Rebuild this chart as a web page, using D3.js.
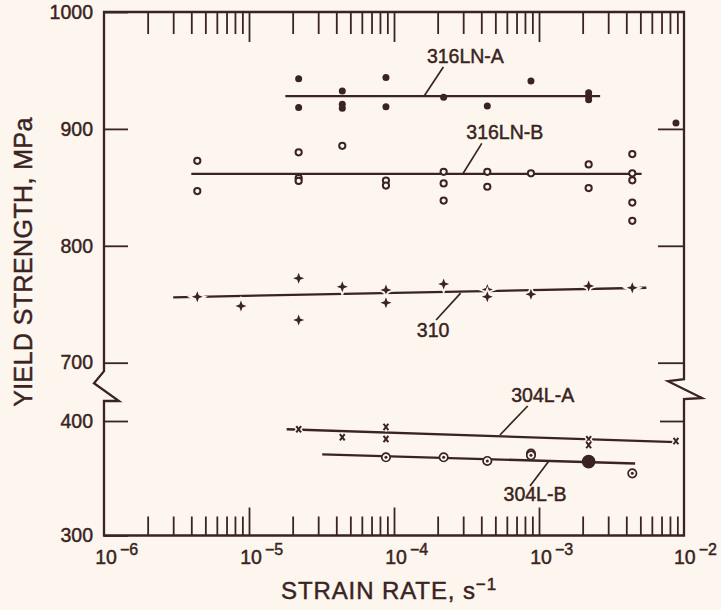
<!DOCTYPE html>
<html>
<head>
<meta charset="utf-8">
<script src="https://cdn.jsdelivr.net/npm/d3@7"></script>
<style>
  html, body { margin: 0; padding: 0; background: #fcf6ef; }
  svg { display: block; }
  text { font-family: "Liberation Sans", Arial, Helvetica, sans-serif; fill: #3a2321;
         stroke: #3a2321; stroke-width: 0.45px; }
</style>
</head>
<body>
<svg id="chart" width="721" height="610"></svg>
<script>
// ---- data: strain rate (1/s), yield strength (MPa) ----
const steel316LNA = [
  [2.2e-5, 943], [2.2e-5, 918.4], [4.4e-5, 932.5], [4.4e-5, 921], [4.4e-5, 917.7],
  [8.8e-5, 944], [8.8e-5, 918.9], [2.2e-4, 927], [4.4e-4, 919.5], [8.8e-4, 941],
  [2.2e-3, 931], [2.2e-3, 928], [2.2e-3, 925], [8.8e-3, 905]
];
const steel316LNB = [
  [4.4e-6, 872.7], [4.4e-6, 846.8], [2.2e-5, 880], [2.2e-5, 858], [2.2e-5, 855.5],
  [4.4e-5, 885.5], [8.8e-5, 855.8], [8.8e-5, 851.5], [2.2e-4, 863.3], [2.2e-4, 853.4],
  [2.2e-4, 838.7], [4.4e-4, 863.3], [4.4e-4, 850.5], [8.8e-4, 862], [2.2e-3, 869.6],
  [2.2e-3, 849.4], [4.4e-3, 878.5], [4.4e-3, 862], [4.4e-3, 856], [4.4e-3, 837],
  [4.4e-3, 821.4]
];
const steel310 = [
  [4.4e-6, 756.4], [8.8e-6, 748.5], [2.2e-5, 772.2], [2.2e-5, 736.5], [4.4e-5, 765],
  [8.8e-5, 762.2], [8.8e-5, 751.3], [2.2e-4, 767.3], [4.4e-4, 762.7], [4.4e-4, 756.4],
  [8.8e-4, 758.5], [2.2e-3, 765.6], [4.4e-3, 764.1]
];
const steel304LA = [
  [2.2e-5, 392.8], [4.4e-5, 385.8], [8.8e-5, 394.8], [8.8e-5, 384.3],
  [2.2e-3, 384], [2.2e-3, 379], [8.8e-3, 382.5]
];
// third field: number of coincident specimens
const steel304LB = [
  [8.8e-5, 368.3, 1], [2.2e-4, 368.3, 1], [4.4e-4, 365.1, 1], [8.8e-4, 371.5, 1],
  [8.8e-4, 370, 1], [2.2e-3, 364.5, 3], [4.4e-3, 354.3, 1]
];

// least-squares trend lines: [strain rate, MPa] end points
const fit316LNA = [[1.78e-5, 928], [2.64e-3, 928]];
const fit316LNB = [[4.0e-6, 861.6], [5.1e-3, 861.6]];
const fit310 = [[3.0e-6, 755.9], [5.5e-3, 764.1]];
const fit304LA = [[1.82e-5, 392.8], [8.8e-3, 381.6]];
const fit304LB = [[3.2e-5, 370.9], [4.6e-3, 362.9]];

// axis ticks
const decadeLabels = [1e-6, 1e-5, 1e-4, 1e-3, 1e-2];
const majorTicks = [1e-5, 1e-4, 1e-3];
const minorTicks = [-6, -5, -4, -3].flatMap(d => d3.range(2, 10).map(k => k * Math.pow(10, d)));
const upperTicks = [1000, 900, 800, 700];
const lowerTicks = [400, 300];

// curve labels: leader start and tip, in data units
const callouts = [
  { text: "316LN-A", from: [2.19e-4, 953], tip: [1.61e-4, 928], dx: 22, dy: -4 },
  { text: "316LN-B", from: [4.03e-4, 887.6], tip: [3.0e-4, 862], dx: 23, dy: -4 },
  { text: "310", from: [1.95e-4, 736.5], tip: [2.88e-4, 759.5], dx: -3, dy: 17 },
  { text: "304L-A", from: [8.36e-4, 413.1], tip: [5.38e-4, 387.8], dx: 15, dy: -4 },
  { text: "304L-B", from: [8.67e-4, 343.2], tip: [1.16e-3, 364.5], dx: 5, dy: 15 }
];

// ---- drawing ----
const ink = "#3a2321";
const bg = "#fcf6ef";
const svg = d3.select("#chart");
svg.append("rect").attr("width", 721).attr("height", 610).attr("fill", bg);

const pLeft = 104, pRight = 684, pTop = 12, pBottom = 535.5;
const x = d3.scaleLog().domain([1e-6, 1e-2]).range([pLeft, pRight]);
const yHi = d3.scaleLinear().domain([700, 1000]).range([362.7, pTop]);
const yLo = d3.scaleLinear().domain([300, 400]).range([pBottom, 421]);
const y = v => (v >= 550 ? yHi(v) : yLo(v));

// frame with broken ordinate between 700 and 400 MPa
const yBreakTop = yHi(700) + 8.5, yBreakBot = yLo(400) - 20;
const frame = d3.path();
frame.moveTo(pLeft, pTop);
frame.lineTo(pRight, pTop);
frame.lineTo(pRight, yBreakTop + 8);
frame.lineTo(pRight - 16, yBreakTop + 10);
frame.lineTo(pRight + 18, yBreakBot - 3);
frame.lineTo(pRight, yBreakBot - 2);
frame.lineTo(pRight, pBottom);
frame.lineTo(pLeft, pBottom);
frame.lineTo(pLeft, yBreakBot);
frame.lineTo(pLeft + 15, yBreakBot);
frame.lineTo(pLeft - 10, yBreakTop + 12);
frame.lineTo(pLeft, yBreakTop);
frame.closePath();
svg.append("path").attr("d", frame.toString())
  .attr("fill", "none").attr("stroke", ink).attr("stroke-width", 2.3)
  .attr("stroke-linejoin", "miter");

function styleAxis(g) {
  g.select(".domain").remove();
  g.selectAll(".tick line").attr("stroke", ink).attr("stroke-width", 1.8);
  g.selectAll(".tick text").attr("fill", ink)
    .style("font-family", '"Liberation Sans", Arial, Helvetica, sans-serif')
    .style("font-size", "19.5px");
}

// top and bottom logarithmic tick rows
svg.append("g").attr("transform", `translate(0,${pTop})`)
  .call(d3.axisBottom(x).tickValues(minorTicks).tickSize(22).tickFormat("")).call(styleAxis);
svg.append("g").attr("transform", `translate(0,${pTop})`)
  .call(d3.axisBottom(x).tickValues(majorTicks).tickSize(30).tickFormat("")).call(styleAxis);
svg.append("g").attr("transform", `translate(0,${pBottom})`)
  .call(d3.axisTop(x).tickValues(minorTicks).tickSize(19).tickFormat("")).call(styleAxis);
svg.append("g").attr("transform", `translate(0,${pBottom})`)
  .call(d3.axisTop(x).tickValues(majorTicks).tickSize(28).tickFormat("")).call(styleAxis);

// left and right ordinate ticks
svg.append("g").attr("transform", `translate(${pLeft},0)`)
  .call(d3.axisLeft(yHi).tickValues(upperTicks).tickSize(-24).tickPadding(11).tickFormat(d3.format("d")))
  .call(styleAxis);
svg.append("g").attr("transform", `translate(${pLeft},0)`)
  .call(d3.axisLeft(yLo).tickValues(lowerTicks).tickSize(-24).tickPadding(11).tickFormat(d3.format("d")))
  .call(styleAxis);
svg.append("g").attr("transform", `translate(${pRight},0)`)
  .call(d3.axisRight(yHi).tickValues(upperTicks.slice(1)).tickSize(-26).tickFormat("")).call(styleAxis);
svg.append("g").attr("transform", `translate(${pRight},0)`)
  .call(d3.axisRight(yLo).tickValues([400]).tickSize(-24).tickFormat("")).call(styleAxis);

// decade labels 10^n
const expLabels = svg.append("g");
decadeLabels.forEach(v => {
  const g = expLabels.append("g");
  const base = g.append("text").attr("text-anchor", "middle")
    .attr("y", pBottom + 28).style("font-size", "19.5px").text("10");
  const exp = g.append("text").attr("text-anchor", "start")
    .attr("y", pBottom + 19).style("font-size", "16px")
    .text("\u2212" + Math.round(-Math.log10(v)));
  let cx = x(v) + 2;
  const ew = exp.node().getComputedTextLength();
  const over = cx + 14 + ew - 717;
  if (over > 0) cx -= over;
  base.attr("x", cx);
  exp.attr("x", cx + 14);
});

// axis titles
const xt = svg.append("text").attr("x", 389).attr("y", 599)
  .attr("text-anchor", "middle").style("font-size", "24px").style("letter-spacing", "0.9px");
xt.append("tspan").text("STRAIN RATE, s");
xt.append("tspan").attr("dy", -9).style("font-size", "17px").text("\u22121");

svg.append("text").attr("transform", "translate(32,262) rotate(-90)")
  .attr("text-anchor", "middle").style("font-size", "25px").style("letter-spacing", "0.4px")
  .text("YIELD STRENGTH, MPa");

// trend lines
const line = d3.line().x(d => x(d[0])).y(d => y(d[1]));
[fit316LNA, fit316LNB, fit310, fit304LA, fit304LB].forEach(f => {
  svg.append("path").attr("d", line(f)).attr("fill", "none")
    .attr("stroke", ink).attr("stroke-width", 2.3);
});

// markers
const pts = svg.append("g");
pts.selectAll(".a").data(steel316LNA).join("circle")
  .attr("cx", d => x(d[0])).attr("cy", d => y(d[1])).attr("r", 3.5).attr("fill", ink);

pts.selectAll(".b").data(steel316LNB).join("circle")
  .attr("cx", d => x(d[0])).attr("cy", d => y(d[1])).attr("r", 3.1)
  .attr("fill", bg).attr("stroke", ink).attr("stroke-width", 2);

const star = "M0,-5.5L1.5,-1.5L5.5,0L1.5,1.5L0,5.5L-1.5,1.5L-5.5,0L-1.5,-1.5Z";
pts.selectAll(".c").data(steel310).join("path")
  .attr("transform", d => `translate(${x(d[0])},${y(d[1])})`)
  .attr("d", star).attr("fill", ink)
  .attr("stroke", bg).attr("stroke-width", 3.5).style("paint-order", "stroke");

const cross = "M-2.4,-3.2L2.4,3.2M2.4,-3.2L-2.4,3.2";
const xa = pts.selectAll(".d").data(steel304LA).join("g")
  .attr("transform", d => `translate(${x(d[0])},${y(d[1])})`);
xa.append("path").attr("d", cross).attr("stroke", bg).attr("stroke-width", 5).attr("fill", "none");
xa.append("path").attr("d", cross).attr("stroke", ink).attr("stroke-width", 2).attr("fill", "none");

const ob = pts.selectAll(".e").data(steel304LB).join("g")
  .attr("transform", d => `translate(${x(d[0])},${y(d[1])})`);
ob.append("circle").attr("r", d => (d[2] > 1 ? 6 : 4.2))
  .attr("fill", d => (d[2] > 1 ? ink : bg)).attr("stroke", ink).attr("stroke-width", 1.7);
ob.append("circle").attr("r", 1.5).attr("fill", ink);

// curve labels with leaders
const ann = svg.append("g");
callouts.forEach(c => {
  const x0 = x(c.from[0]), y0 = y(c.from[1]);
  ann.append("line").attr("x1", x0).attr("y1", y0)
    .attr("x2", x(c.tip[0])).attr("y2", y(c.tip[1]))
    .attr("stroke", ink).attr("stroke-width", 1.7);
  ann.append("text").attr("x", x0 + c.dx).attr("y", y0 + c.dy)
    .attr("text-anchor", "middle").style("font-size", "19.5px").text(c.text);
});
</script>
</body>
</html>
